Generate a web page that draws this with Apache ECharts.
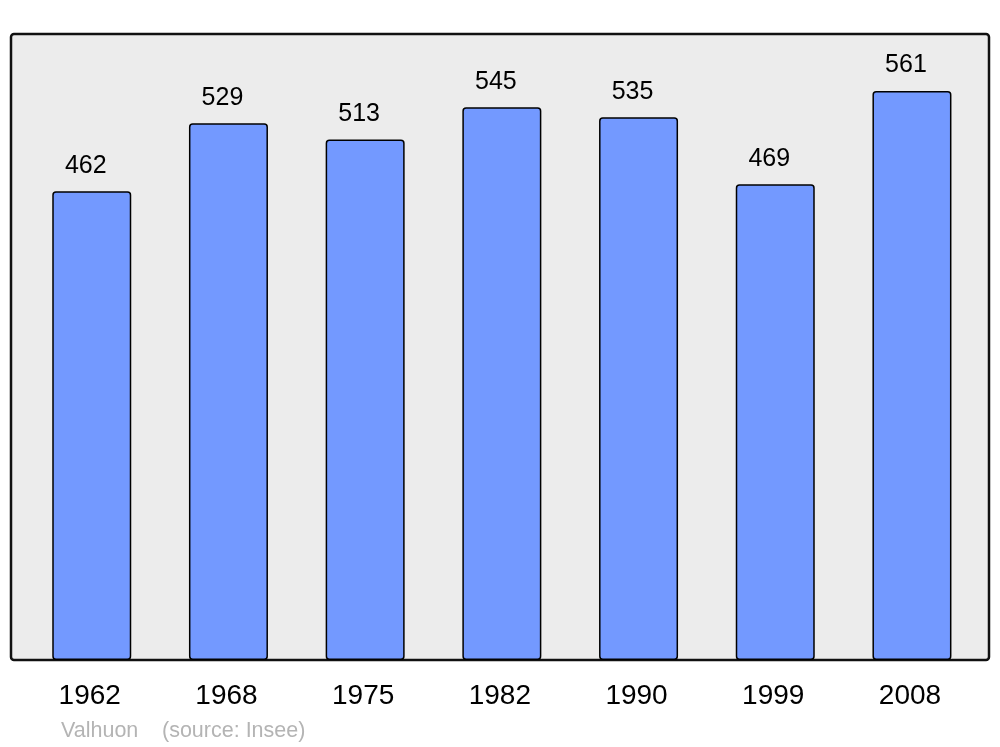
<!DOCTYPE html>
<html>
<head>
<meta charset="utf-8">
<script src="https://cdn.jsdelivr.net/npm/echarts@6/dist/echarts.min.js"></script>
<style>html,body{margin:0;padding:0;background:#fff}#c{width:1000px;height:747px}</style>
</head>
<body>
<div id="c"></div>
<script>
const years = ['1962', '1968', '1975', '1982', '1990', '1999', '2008'];
const population = [462, 529, 513, 545, 535, 469, 561];
const placeName = 'Valhuon';
const sourceText = '(source: Insee)';

const chart = echarts.init(document.getElementById('c'), null, {renderer: 'canvas'});
chart.setOption({
  animation: false,
  graphic: [
    {type: 'rect', z: -10, shape: {x: 11, y: 34, width: 978, height: 626, r: 3},
     style: {fill: '#ececec', stroke: '#111', lineWidth: 2.5}},
    {type: 'text', left: 61, top: 720, style: {text: placeName, fill: '#b4b4b4', font: '21.5px "Liberation Sans", Arial, sans-serif'}},
    {type: 'text', left: 162, top: 720, style: {text: sourceText, fill: '#b4b4b4', font: '21.5px "Liberation Sans", Arial, sans-serif'}}
  ],
  grid: {left: 23.4, right: 19.7, top: 34, bottom: 87, containLabel: false},
  xAxis: {
    type: 'category', data: years,
    axisLine: {show: false}, axisTick: {show: false},
    axisLabel: {color: '#000', fontSize: 28, fontFamily: '"Liberation Sans", Arial, sans-serif', margin: 22,
                padding: [0, 4, 0, 0]}
  },
  yAxis: {
    type: 'value', min: 0, max: 617.1, show: false, splitLine: {show: false}
  },
  series: [{
    type: 'bar', data: population, barWidth: 79,
    itemStyle: {color: '#7399ff', borderColor: '#000', borderWidth: 1.5, borderRadius: 3},
    label: {show: true, position: 'top', distance: 13, offset: [-6, 0], color: '#000', fontSize: 25,
            fontFamily: '"Liberation Sans", Arial, sans-serif'}
  }]
});
</script>
</body>
</html>
